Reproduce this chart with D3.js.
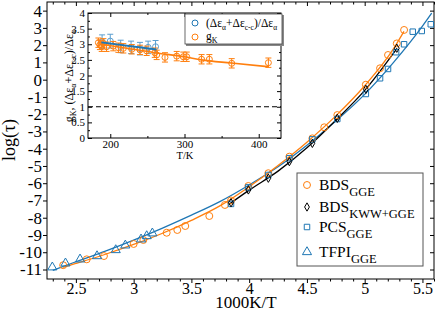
<!DOCTYPE html>
<html>
<head>
<meta charset="utf-8">
<script src="https://cdn.jsdelivr.net/npm/d3@7"></script>
<style>
  body { margin: 0; background: #fff; }
  svg text { font-family: "Liberation Serif", "DejaVu Serif", serif; fill: #000; }
</style>
</head>
<body>
<div id="chart"></div>
<script>
// dados principais: 1000K/T vs log(tau)
const bdsX = [2.39, 2.594, 2.743, 3.0, 3.084, 3.286, 3.378, 3.447, 3.655, 3.79, 3.843, 3.993, 4.166, 4.348, 4.547, 4.65, 4.763, 5.01, 5.133, 5.202, 5.278, 5.341];
const bdsY = [-10.75, -10.41, -10.22, -9.52, -9.29, -8.87, -8.71, -8.48, -7.9, -7.26, -7.0, -6.16, -5.42, -4.46, -3.4, -2.76, -2.05, -0.29, 0.66, 1.43, 2.1, 2.88];

const kwwX = [3.843, 3.993, 4.166, 4.348, 4.547, 4.763, 5.01, 5.278];
const kwwY = [-7.13, -6.39, -5.71, -4.75, -3.69, -2.24, -0.56, 1.82];

const pcsX = [3.843, 3.993, 4.166, 4.348, 4.547, 4.763, 5.01, 5.133, 5.202, 5.272, 5.341, 5.416, 5.494, 5.572];
const pcsY = [-7.2, -6.24, -5.52, -4.55, -3.46, -2.28, -0.83, 0.08, 0.62, 1.59, 2.05, 2.78, 2.82, 3.21];

const tfpiX = [2.296, 2.41, 2.536, 2.683, 2.845, 2.928, 3.064, 3.113, 3.162];
const tfpiY = [-10.87, -10.64, -10.41, -10.22, -9.87, -9.6, -9.25, -9.06, -8.9];

// curvas de ajuste
const bdsFitX = [2.39, 2.5, 2.75, 3.0, 3.25, 3.5, 3.75, 4.0, 4.25, 4.5, 4.75, 5.0, 5.25, 5.34];
const bdsFitY = [-10.87, -10.65, -10.13, -9.55, -8.9, -8.15, -7.3, -6.2, -4.97, -3.62, -2.1, -0.35, 1.8, 2.8];
const kwwFitX = [3.82, 4.0, 4.25, 4.5, 4.75, 5.0, 5.28];
const kwwFitY = [-7.25, -6.4, -5.3, -3.95, -2.35, -0.62, 1.82];
const pcsFitX = [2.3, 2.5, 2.75, 3.0, 3.25, 3.5, 3.75, 4.0, 4.25, 4.5, 4.75, 5.0, 5.25, 5.5, 5.58];
const pcsFitY = [-11.05, -10.55, -9.95, -9.3, -8.6, -7.85, -7.05, -6.1, -5.05, -3.8, -2.4, -0.85, 1.0, 3.1, 3.85];

const xTicks = [2.5, 3, 3.5, 4, 4.5, 5, 5.5];
const yTicks = [-11, -10, -9, -8, -7, -6, -5, -4, -3, -2, -1, 0, 1, 2, 3, 4];

// dados do inset: T/K
const gkT = [184, 186, 188.5, 190.7, 195, 204, 211, 217.6, 229, 240, 249, 260, 262.5, 273.7, 289.5, 298.4, 303, 323, 333.5, 363.6, 413];
const gkV = [3.05, 2.98, 2.92, 3.03, 2.92, 2.94, 2.89, 2.87, 2.84, 2.82, 2.79, 2.73, 2.66, 2.58, 2.62, 2.6, 2.6, 2.52, 2.52, 2.39, 2.41];
const gkErr = [0.15, 0.15, 0.15, 0.15, 0.15, 0.15, 0.15, 0.15, 0.15, 0.15, 0.15, 0.15, 0.15, 0.15, 0.15, 0.15, 0.15, 0.15, 0.15, 0.15, 0.15];
const ratioT = [189, 200, 214, 228, 240, 251, 261];
const ratioV = [3.08, 3.1, 2.93, 2.9, 2.86, 2.9, 2.92];
const ratioErr = [0.22, 0.22, 0.2, 0.2, 0.2, 0.2, 0.2];
const gkFitT = [188, 220, 260, 300, 323, 363, 413];
const gkFitV = [3.0, 2.88, 2.73, 2.6, 2.5, 2.4, 2.28];
const ratioFitT = [188, 262];
const ratioFitV = [3.06, 2.83];

const insetXTicks = [200, 300, 400];
const insetYTicks = [0, 0.5, 1, 1.5, 2, 2.5, 3, 3.5, 4];

const orange = "#ff7f0e", blue = "#1f77b4";

const width = 436, height = 312;
const svg = d3.select("#chart").append("svg")
    .attr("width", width)
    .attr("height", height);

const x = d3.scaleLinear().domain([2.25, 5.6]).range([47, 434]);
const y = d3.scaleLinear().domain([-11.55, 4.5]).range([279, 2]);

function clean(g, size) {
    g.select(".domain").remove();
    g.selectAll("line").attr("stroke", "#000");
    g.selectAll("text").attr("font-size", size).attr("font-family", "Liberation Serif");
}

const minorX = d3.range(23, 57).map(d => d / 10).filter(d => !xTicks.includes(d));

// eixos principais
svg.append("g").attr("transform", "translate(0,279)")
    .call(d3.axisBottom(x).tickValues(xTicks).tickSize(4).tickPadding(0).tickFormat(d => d))
    .call(g => clean(g, 16));
svg.append("g").attr("transform", "translate(0,279)")
    .call(d3.axisBottom(x).tickValues(minorX).tickSize(2.5).tickFormat(""))
    .call(g => clean(g, 16));
svg.append("g").attr("transform", "translate(0,2)")
    .call(d3.axisTop(x).tickValues(xTicks).tickSize(-4).tickFormat(""))
    .call(g => clean(g, 16));
svg.append("g").attr("transform", "translate(0,2)")
    .call(d3.axisTop(x).tickValues(minorX).tickSize(-2.5).tickFormat(""))
    .call(g => clean(g, 16));
svg.append("g").attr("transform", "translate(47,0)")
    .call(d3.axisLeft(y).tickValues(yTicks).tickSize(4).tickPadding(1).tickFormat(d => String(d)))
    .call(g => clean(g, 17));
svg.append("g").attr("transform", "translate(434,0)")
    .call(d3.axisRight(y).tickValues(yTicks).tickSize(-4).tickFormat(""))
    .call(g => clean(g, 17));

svg.append("rect")
    .attr("x", 47).attr("y", 2).attr("width", 387).attr("height", 277)
    .attr("fill", "none").attr("stroke", "#000").attr("stroke-width", 1);

// curvas
const line = d3.line().x(d => x(d[0])).y(d => y(d[1])).curve(d3.curveMonotoneX);
const fits = [
    [pcsFitX, pcsFitY, blue],
    [bdsFitX, bdsFitY, orange],
    [kwwFitX, kwwFitY, "#000"]
];
fits.forEach(([xs, ys, c]) => {
    svg.append("path")
        .attr("d", line(xs.map((v, i) => [v, ys[i]])))
        .attr("fill", "none")
        .attr("stroke", c)
        .attr("stroke-width", 1.3);
});

function drawSymbols(xs, ys, type, size, color) {
    svg.append("g").selectAll("path")
        .data(xs.map((v, i) => [v, ys[i]]))
        .enter().append("path")
        .attr("transform", d => `translate(${x(d[0])},${y(d[1])})`)
        .attr("d", d3.symbol().type(type).size(size))
        .attr("fill", "none")
        .attr("stroke", color)
        .attr("stroke-width", 1);
}
drawSymbols(bdsX, bdsY, d3.symbolCircle, 38, orange);
drawSymbols(pcsX, pcsY, d3.symbolSquare, 30, blue);
drawSymbols(tfpiX, tfpiY, d3.symbolTriangle, 36, blue);
drawSymbols(kwwX, kwwY, d3.symbolDiamond, 20, "#000");

// texto com subscritos (o dy volta na parte seguinte)
function rich(sel, parts, size, subSize, shift) {
    let back = 0;
    parts.forEach(p => {
        if (typeof p === "string") {
            sel.append("tspan").attr("font-size", size).attr("dy", back).text(p);
            back = 0;
        } else {
            sel.append("tspan").attr("font-size", subSize).attr("dy", shift + back).text(p.sub);
            back = -shift;
        }
    });
}

// legenda principal
svg.append("rect")
    .attr("x", 297).attr("y", 173).attr("width", 126).attr("height", 93)
    .attr("fill", "#fff").attr("stroke", "#555").attr("stroke-width", 1);
const legend = [
    ["BDS", "GGE", d3.symbolCircle, 38, orange, 185],
    ["BDS", "KWW+GGE", d3.symbolDiamond, 20, "#000", 207],
    ["PCS", "GGE", d3.symbolSquare, 30, blue, 227],
    ["TFPI", "GGE", d3.symbolTriangle, 36, blue, 252]
];
legend.forEach(([label, sub, type, size, color, ly]) => {
    svg.append("path")
        .attr("transform", `translate(307,${ly})`)
        .attr("d", d3.symbol().type(type).size(size))
        .attr("fill", "none").attr("stroke", color);
    const t = svg.append("text").attr("x", 319).attr("y", ly + 5);
    rich(t, [label, {sub: sub}], 15.5, 12.5, 6);
});

// rótulos dos eixos
svg.append("text")
    .attr("x", 246).attr("y", 308)
    .attr("text-anchor", "middle")
    .attr("font-size", 17)
    .text("1000K/T");
svg.append("text")
    .attr("transform", "translate(15,140) rotate(-90)")
    .attr("text-anchor", "middle")
    .attr("font-size", 18)
    .text("log(\u03c4)");

// ---------- inset ----------
const ix = d3.scaleLinear().domain([170, 430]).range([88, 281]);
const iy = d3.scaleLinear().domain([0, 4]).range([138, 13]);

svg.append("rect")
    .attr("x", 88).attr("y", 13).attr("width", 193).attr("height", 125)
    .attr("fill", "#fff");

const iMinorX = d3.range(150, 451, 50).filter(d => !insetXTicks.includes(d) && d > 170 && d < 430);
const iMinorY = d3.range(0.25, 4, 0.5);

svg.append("g").attr("transform", "translate(0,138)")
    .call(d3.axisBottom(ix).tickValues(insetXTicks).tickSize(-4).tickPadding(2).tickFormat(d => d))
    .call(g => clean(g, 11));
svg.append("g").attr("transform", "translate(0,138)")
    .call(d3.axisBottom(ix).tickValues(iMinorX).tickSize(-2).tickFormat(""))
    .call(g => clean(g, 11));
svg.append("g").attr("transform", "translate(0,13)")
    .call(d3.axisTop(ix).tickValues(insetXTicks).tickSize(-4).tickFormat(""))
    .call(g => clean(g, 11));
svg.append("g").attr("transform", "translate(0,13)")
    .call(d3.axisTop(ix).tickValues(iMinorX).tickSize(-2).tickFormat(""))
    .call(g => clean(g, 11));
svg.append("g").attr("transform", "translate(88,0)")
    .call(d3.axisLeft(iy).tickValues(insetYTicks).tickSize(-4).tickPadding(3).tickFormat(d => String(d)))
    .call(g => clean(g, 11));
svg.append("g").attr("transform", "translate(88,0)")
    .call(d3.axisLeft(iy).tickValues(iMinorY).tickSize(-2).tickFormat(""))
    .call(g => clean(g, 11));
svg.append("g").attr("transform", "translate(281,0)")
    .call(d3.axisRight(iy).tickValues(insetYTicks).tickSize(-4).tickFormat(""))
    .call(g => clean(g, 11));
svg.append("g").attr("transform", "translate(281,0)")
    .call(d3.axisRight(iy).tickValues(iMinorY).tickSize(-2).tickFormat(""))
    .call(g => clean(g, 11));

svg.append("rect")
    .attr("x", 88).attr("y", 13).attr("width", 193).attr("height", 125)
    .attr("fill", "none").attr("stroke", "#000").attr("stroke-width", 1);

// linha tracejada em 1
svg.append("line")
    .attr("x1", 88).attr("x2", 281)
    .attr("y1", iy(1)).attr("y2", iy(1))
    .attr("stroke", "#000").attr("stroke-width", 1.2)
    .attr("stroke-dasharray", "5,3");

function errPoints(ts, vs, es, color) {
    const g = svg.append("g").attr("stroke", color).attr("fill", "none").attr("stroke-width", 1);
    ts.forEach((t, i) => {
        const cx = ix(t), lo = iy(vs[i] - es[i]), hi = iy(vs[i] + es[i]);
        g.append("line").attr("x1", cx).attr("x2", cx).attr("y1", lo).attr("y2", hi);
        g.append("line").attr("x1", cx - 3).attr("x2", cx + 3).attr("y1", lo).attr("y2", lo);
        g.append("line").attr("x1", cx - 3).attr("x2", cx + 3).attr("y1", hi).attr("y2", hi);
        g.append("circle").attr("cx", cx).attr("cy", iy(vs[i])).attr("r", 3);
    });
}
errPoints(ratioT, ratioV, ratioErr, "#5b9fd0");
errPoints(gkT, gkV, gkErr, orange);

const iline = d3.line().x(d => ix(d[0])).y(d => iy(d[1])).curve(d3.curveMonotoneX);
svg.append("path")
    .attr("d", iline(gkFitT.map((t, i) => [t, gkFitV[i]])))
    .attr("fill", "none").attr("stroke", orange).attr("stroke-width", 1.6);
svg.append("path")
    .attr("d", iline(ratioFitT.map((t, i) => [t, ratioFitV[i]])))
    .attr("fill", "none").attr("stroke", blue).attr("stroke-width", 2);

// legenda do inset
svg.append("rect")
    .attr("x", 186).attr("y", 15).attr("width", 98).attr("height", 31)
    .attr("fill", "#888");
svg.append("rect")
    .attr("x", 185).attr("y", 14).attr("width", 97).attr("height", 30)
    .attr("fill", "#fff").attr("stroke", "#444").attr("stroke-width", 0.8);
svg.append("circle").attr("cx", 195).attr("cy", 23).attr("r", 3)
    .attr("fill", "none").attr("stroke", blue);
svg.append("circle").attr("cx", 195).attr("cy", 37).attr("r", 3)
    .attr("fill", "none").attr("stroke", orange);
const l1 = svg.append("text").attr("x", 206).attr("y", 27);
rich(l1, ["(\u0394\u03b5", {sub: "\u03b1"}, "+\u0394\u03b5", {sub: "c-c"}, ")/\u0394\u03b5", {sub: "\u03b1"}], 11.5, 7.5, 3);
const l2 = svg.append("text").attr("x", 206).attr("y", 40);
rich(l2, ["g", {sub: "K"}], 11.5, 8, 3);

// rótulos do inset
svg.append("text")
    .attr("x", 185).attr("y", 159)
    .attr("text-anchor", "middle")
    .attr("font-size", 10.5)
    .text("T/K");
const iyl = svg.append("text")
    .attr("transform", "translate(73,76) rotate(-90)")
    .attr("text-anchor", "middle");
rich(iyl, ["g", {sub: "K"}, ", (\u0394\u03b5", {sub: "\u03b1"}, "+\u0394\u03b5", {sub: "c-c"}, ")/\u0394\u03b5", {sub: "\u03b1"}], 12, 8, 3);
</script>
</body>
</html>
